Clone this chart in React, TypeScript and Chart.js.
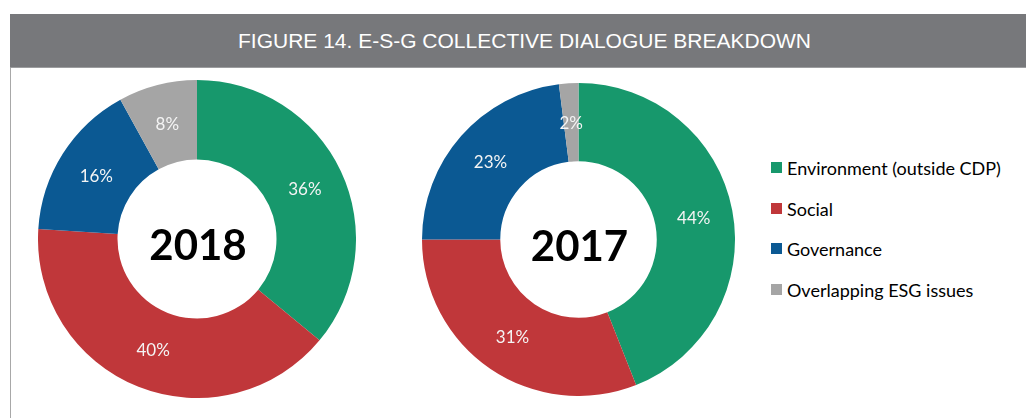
import React, { useEffect, useRef } from "react";
import { Chart, registerables } from "chart.js";

Chart.register(...registerables);

const title = "FIGURE 14. E-S-G COLLECTIVE DIALOGUE BREAKDOWN";
const categories = ["Environment (outside CDP)", "Social", "Governance", "Overlapping ESG issues"];
const colors = ["#17986C", "#C0373A", "#0B5993", "#A5A5A5"];
const years = ["2018", "2017"];
const values2018 = [36, 40, 16, 8];
const values2017 = [44, 31, 23, 2];

const ringLabels = {
  id: "ringLabels",
  afterDatasetsDraw(chart: any, _args: any, opts: any) {
    const ctx = chart.ctx;
    const meta = chart.getDatasetMeta(0);
    const data = chart.data.datasets[0].data;
    let cx = 0;
    let cy = 0;
    ctx.save();
    ctx.fillStyle = "#F4F4F4";
    ctx.font = "17px Lato";
    ctx.textAlign = "center";
    ctx.textBaseline = "middle";
    meta.data.forEach((arc: any, i: number) => {
      const p = arc.getProps(["x", "y", "startAngle", "endAngle", "innerRadius", "outerRadius"], true);
      cx = p.x;
      cy = p.y;
      const mid = (p.startAngle + p.endAngle) / 2;
      const r = (p.innerRadius + p.outerRadius) / 2;
      ctx.fillText(data[i] + "%", p.x + Math.cos(mid) * r, p.y + Math.sin(mid) * r + 1);
    });
    ctx.fillStyle = "#000000";
    ctx.font = "bold 42px Lato";
    ctx.textBaseline = "alphabetic";
    ctx.fillText(opts.text, cx + 1, cy + 21);
    ctx.restore();
  },
};

function Donut({ values, year, left, top, size }: { values: number[]; year: string; left: number; top: number; size: number }) {
  const ref = useRef<HTMLCanvasElement>(null);
  useEffect(() => {
    if (!ref.current) return;
    const chart = new Chart(ref.current, {
      type: "doughnut",
      data: {
        labels: categories,
        datasets: [
          {
            data: values,
            backgroundColor: colors,
            borderWidth: 0,
          },
        ],
      },
      options: {
        responsive: false,
        animation: false,
        cutout: "50%",
        layout: { padding: 0 },
        plugins: {
          legend: { display: false },
          tooltip: { enabled: false },
          ringLabels: { text: year },
        } as any,
      },
      plugins: [ringLabels],
    });
    return () => chart.destroy();
  }, []);
  return (
    <canvas
      ref={ref}
      width={size}
      height={size}
      style={{ position: "absolute", left, top, width: size, height: size }}
    />
  );
}

export default function App() {
  const legendBaselines = [175, 216, 256, 297];
  return (
    <div
      style={{
        position: "fixed",
        left: 0,
        top: 0,
        width: 1026,
        height: 418,
        background: "#FFFFFF",
        overflow: "hidden",
      }}
    >
      <div
        style={{
          position: "absolute",
          left: 10,
          top: 14,
          width: 1016,
          height: 53,
          background: "#77787B",
          borderBottom: "1px solid #9C9D9F",
        }}
      />
      <div
        style={{
          position: "absolute",
          left: 10,
          top: 68,
          width: 1,
          height: 350,
          background: "#A8A8A8",
        }}
      />
      <div
        style={{
          position: "absolute",
          left: 238,
          top: 30,
          font: "21px 'Liberation Sans', Arial, sans-serif",
          lineHeight: "21px",
          color: "#FFFFFF",
          whiteSpace: "nowrap",
        }}
      >
        {title}
      </div>
      <Donut values={values2018} year={years[0]} left={38} top={80} size={318} />
      <Donut values={values2017} year={years[1]} left={422} top={83} size={313} />
      {categories.map((c, i) => (
        <React.Fragment key={c}>
          <div
            style={{
              position: "absolute",
              left: 771,
              top: legendBaselines[i] - 13,
              width: 11,
              height: 11,
              background: colors[i],
            }}
          />
          <div
            style={{
              position: "absolute",
              left: 787,
              top: legendBaselines[i] - 16,
              font: "18px Lato, sans-serif",
              lineHeight: "18px",
              color: "#000000",
              whiteSpace: "nowrap",
            }}
          >
            {c}
          </div>
        </React.Fragment>
      ))}
    </div>
  );
}
